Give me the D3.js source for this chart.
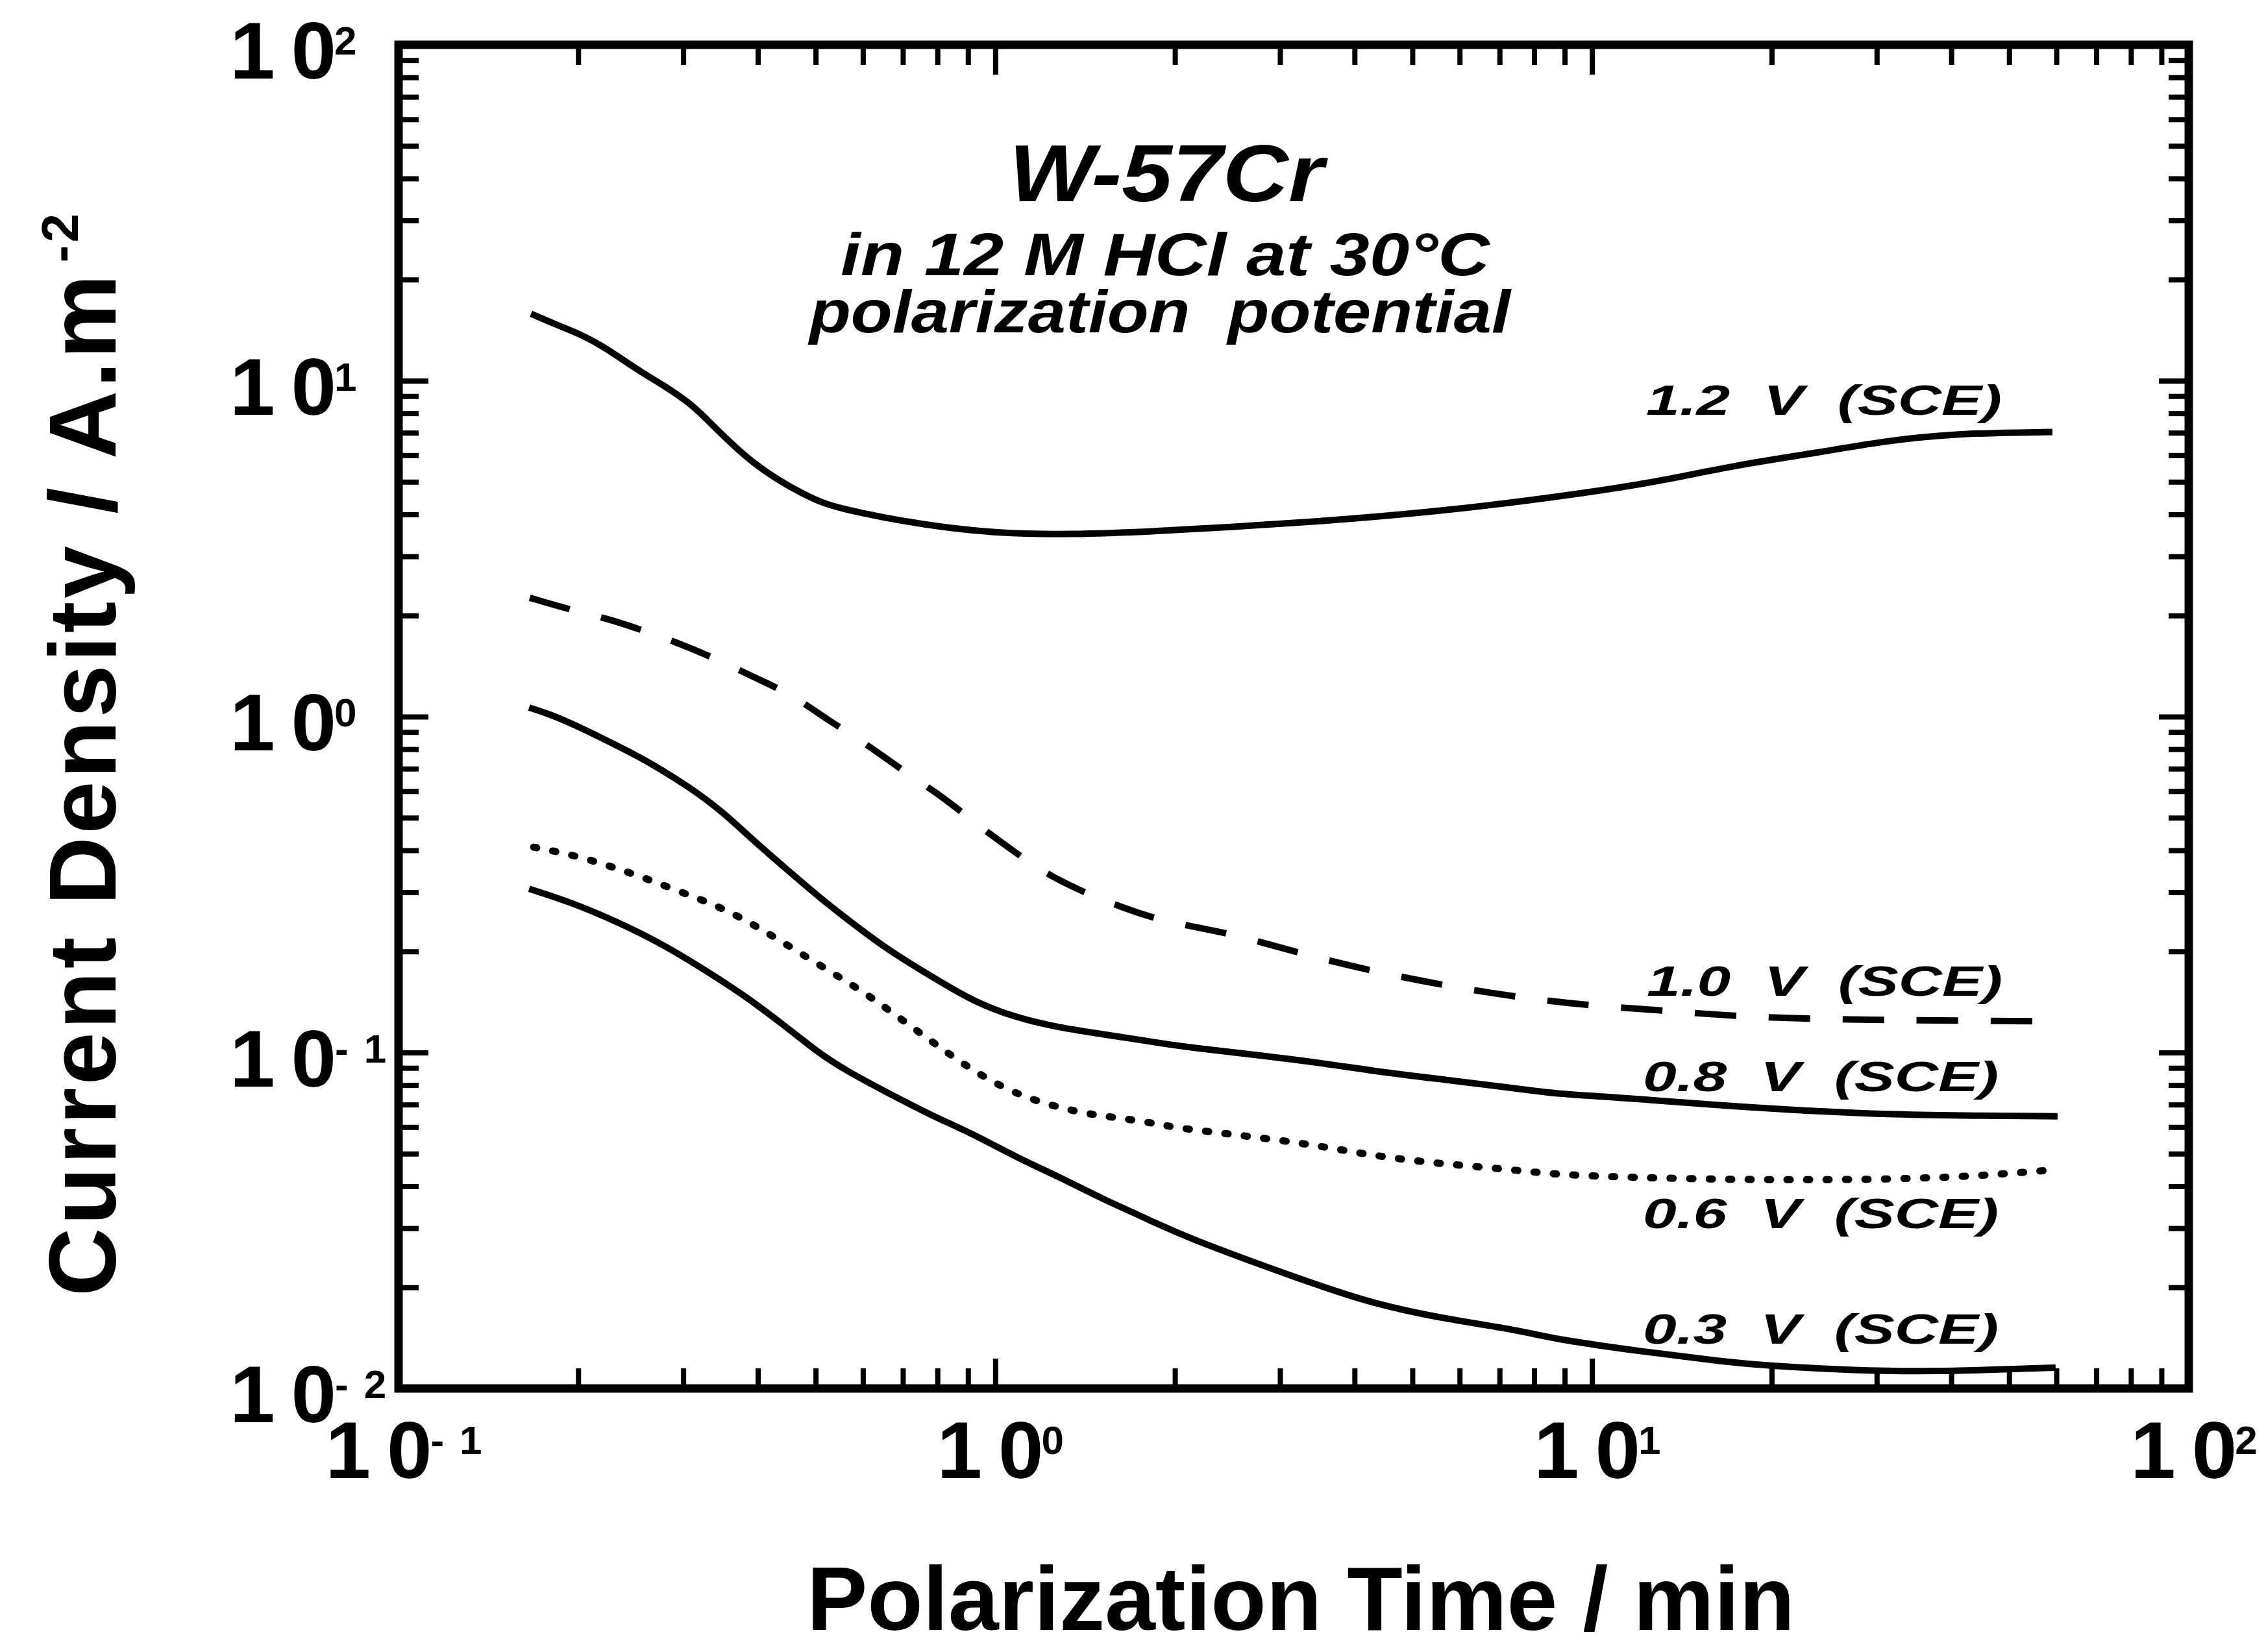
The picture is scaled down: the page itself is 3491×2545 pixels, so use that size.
<!DOCTYPE html>
<html><head><meta charset="utf-8">
<script src="https://cdn.jsdelivr.net/npm/d3@7"></script>
<style>
html,body{margin:0;padding:0;background:#fff;}
svg{display:block;}
text{font-family:"Liberation Sans", Arial, Helvetica, sans-serif;font-weight:bold;fill:#000;}
.it{font-style:italic;white-space:pre;}
</style></head><body>
<svg id="chart" width="3491" height="2545"></svg>
<script>
// ---- data (time in min, current density in A.m^-2) ----
const seriesLabels = ["1.2  V  (SCE)", "1.0  V  (SCE)", "0.8  V  (SCE)", "0.6  V  (SCE)", "0.3  V  (SCE)"];
const seriesStyles = ["solid", "dashed", "solid", "dotted", "solid"];

const time12 = [0.1667,0.1852,0.2012,0.2191,0.2379,0.2585,0.2814,0.3057,0.3214,0.3908,0.4885,0.5454,0.763,1.008,1.334,1.861,3.253,5.677,9.925,13.11,17.35,24.22,30.27,40.07,59.1];
const cd12   = [15.82,14.60,13.78,12.72,11.53,10.45,9.565,8.634,8.004,5.604,4.467,4.159,3.707,3.512,3.481,3.559,3.771,4.086,4.648,5.037,5.604,6.128,6.579,6.97,7.034];

const time10 = [0.1659,0.1948,0.2218,0.2585,0.2929,0.3465,0.3927,0.4564,0.5213,0.6059,0.6990,0.8182,0.9254,1.097,1.249,1.453,1.626,1.919,2.458,3.253,4.298,5.677,7.516,9.705,13.01,17.27,23.32,31.11,42.02,60.28];
const cd10   = [2.259,2.076,1.968,1.80,1.662,1.467,1.312,1.164,0.9824,0.8331,0.6913,0.5757,0.4818,0.3856,0.3313,0.2928,0.2713,0.2447,0.2279,0.1968,0.1745,0.1582,0.146,0.1384,0.1336,0.1283,0.126,0.1249,0.1244,0.1238];

const time08 = [0.1655,0.1793,0.2032,0.2303,0.2585,0.3081,0.3491,0.3957,0.4485,0.5084,0.5579,0.6597,0.7784,0.9206,1.089,1.285,1.519,1.797,2.053,3.253,4.298,5.677,7.516,8.778,11.17,15.66,21.91,32.79,43.74,60.28];
const cd08   = [1.064,1.018,0.923,0.8257,0.7454,0.6157,0.5216,0.4233,0.3495,0.2888,0.2536,0.2022,0.1692,0.1415,0.1266,0.1184,0.1133,0.1083,0.1040,0.0952,0.0880,0.0830,0.0781,0.0752,0.0735,0.0700,0.0673,0.0652,0.0649,0.0646];

const time06 = [0.1684,0.1963,0.2263,0.2598,0.2996,0.3482,0.4007,0.4599,0.5306,0.6119,0.7130,0.8185,0.9393,1.097,1.269,1.456,1.659,1.929,2.043,3.253,4.298,5.677,7.516,8.913,16.67,27.04,37.26,47.39,57.05];
const cd06   = [0.4088,0.3873,0.3590,0.3299,0.2989,0.2701,0.2361,0.2030,0.1737,0.1486,0.1217,0.1018,0.0859,0.0745,0.0688,0.0652,0.0635,0.0607,0.0594,0.0541,0.0492,0.0465,0.0447,0.0430,0.0418,0.0418,0.0423,0.0433,0.0445];

const time03 = [0.1655,0.1948,0.2303,0.2718,0.3214,0.3802,0.4485,0.5084,0.5579,0.6597,0.7784,0.9206,1.089,1.285,1.519,1.797,2.053,3.253,4.298,5.677,7.516,8.778,12.1,16.67,19.57,27.04,37.26,51.35,59.83];
const cd03   = [0.3072,0.2799,0.2469,0.2142,0.1792,0.1479,0.1184,0.0991,0.0891,0.0759,0.0652,0.0571,0.0486,0.0425,0.0365,0.0320,0.0285,0.0211,0.01785,0.0161,0.01493,0.01396,0.01289,0.0120,0.01169,0.01133,0.01122,0.01143,0.01153];

const seriesTimes = [time12, time10, time08, time06, time03];
const seriesValues = [cd12, cd10, cd08, cd06, cd03];

const xMajorTicks = [0.1, 1, 10, 100];
const xTickExps = [-1, 0, 1, 2];
const yMajorTicks = [0.01, 0.1, 1, 10, 100];
const yTickExps = [-2, -1, 0, 1, 2];

const titleLines = ["W-57Cr", "in 12 M HCl at 30°C", "polarization  potential"];
const xTitle = "Polarization Time / min";
const yTitleMain = "Current Density / A.m";
const yTitleSup = "-2";

// ---- layout ----
const L = 614, R = 3372, T = 69, B = 2139;
const svg = d3.select("#chart");
const x = d3.scaleLog().domain([0.1, 100]).range([L, R]);
const y = d3.scaleLog().domain([0.01, 100]).range([B, T]);

function minorTicks(lo, hi) {
  const out = [];
  for (let e = Math.round(Math.log10(lo)); e < Math.round(Math.log10(hi)); e++)
    for (let m = 2; m <= 9; m++) out.push(m * Math.pow(10, e));
  return out;
}
const xMinor = minorTicks(0.1, 100);
const yMinor = minorTicks(0.01, 100);

const MAJ = 46, MIN = 31, TW = 8;
function styleAxis(g) {
  g.select(".domain").remove();
  g.selectAll(".tick text").remove();
  g.selectAll(".tick line").attr("stroke", "#000").attr("stroke-width", TW);
}
// bottom / top
svg.append("g").attr("transform", `translate(0,${B})`).call(d3.axisBottom(x).tickValues(xMajorTicks).tickSizeInner(-MAJ).tickSizeOuter(0)).call(styleAxis);
svg.append("g").attr("transform", `translate(0,${B})`).call(d3.axisBottom(x).tickValues(xMinor).tickSizeInner(-MIN).tickSizeOuter(0)).call(styleAxis);
svg.append("g").attr("transform", `translate(0,${T})`).call(d3.axisTop(x).tickValues(xMajorTicks).tickSizeInner(-MAJ).tickSizeOuter(0)).call(styleAxis);
svg.append("g").attr("transform", `translate(0,${T})`).call(d3.axisTop(x).tickValues(xMinor).tickSizeInner(-MIN).tickSizeOuter(0)).call(styleAxis);
// left / right
svg.append("g").attr("transform", `translate(${L},0)`).call(d3.axisLeft(y).tickValues(yMajorTicks).tickSizeInner(-MAJ).tickSizeOuter(0)).call(styleAxis);
svg.append("g").attr("transform", `translate(${L},0)`).call(d3.axisLeft(y).tickValues(yMinor).tickSizeInner(-MIN).tickSizeOuter(0)).call(styleAxis);
svg.append("g").attr("transform", `translate(${R},0)`).call(d3.axisRight(y).tickValues(yMajorTicks).tickSizeInner(-MAJ).tickSizeOuter(0)).call(styleAxis);
svg.append("g").attr("transform", `translate(${R},0)`).call(d3.axisRight(y).tickValues(yMinor).tickSizeInner(-MIN).tickSizeOuter(0)).call(styleAxis);

// frame
svg.append("rect").attr("x", L).attr("y", T).attr("width", R - L).attr("height", B - T)
  .attr("fill", "none").attr("stroke", "#000").attr("stroke-width", 13);

// tick labels (10 with superscript exponent)
function powLabel(t, e) {
  t.append("tspan").text("1");
  t.append("tspan").attr("dx", 25).text("0");
  if (e < 0) {
    t.append("tspan").attr("dx", -2).attr("dy", -37).attr("font-size", 62).text("-");
    t.append("tspan").attr("dx", 24).attr("font-size", 62).text(String(-e));
  } else {
    t.append("tspan").attr("dx", -3).attr("dy", -37).attr("font-size", 62).text(String(e));
  }
}
xMajorTicks.forEach((v, i) => {
  const t = svg.append("text").attr("x", x(v) + 8).attr("y", 2277).attr("text-anchor", "middle").attr("font-size", 125);
  powLabel(t, xTickExps[i]);
});
yMajorTicks.forEach((v, i) => {
  const t = svg.append("text").attr("x", 354).attr("y", y(v) + 52).attr("text-anchor", "start").attr("font-size", 125);
  powLabel(t, yTickExps[i]);
});

// axis titles
svg.append("text").attr("x", 2004).attr("y", 2511).attr("text-anchor", "middle").attr("font-size", 140).text(xTitle);
const yt = svg.append("text").attr("transform", "translate(178,1163) rotate(-90)").attr("text-anchor", "middle")
  .attr("font-size", 146).attr("textLength", 1668);
yt.append("tspan").text(yTitleMain);
yt.append("tspan").attr("dx", 14).attr("dy", -58).attr("font-size", 80).text(yTitleSup);

// title block
const titleSizes = [124, 93, 93], titleY = [310, 424, 512], titleX = [1797, 1795, 1787], titleW = [485, 1000, 1080];
titleLines.forEach((s, i) => {
  svg.append("text").attr("class", "it").attr("x", titleX[i]).attr("y", titleY[i]).attr("text-anchor", "middle")
    .attr("font-size", titleSizes[i]).attr("textLength", titleW[i]).attr("lengthAdjust", "spacingAndGlyphs").text(s);
});

// curves
const line = d3.line().x(d => x(d[0])).y(d => y(d[1])).curve(d3.curveBasis);
seriesTimes.forEach((ts, i) => {
  const pts = ts.map((t, k) => [t, seriesValues[i][k]]);
  const p = svg.append("path").attr("d", line(pts)).attr("fill", "none").attr("stroke", "#000");
  if (seriesStyles[i] === "solid") p.attr("stroke-width", 10).attr("stroke-linejoin", "round");
  else if (seriesStyles[i] === "dashed") p.attr("stroke-width", 10).attr("stroke-dasharray", "64 50");
  else p.attr("stroke-width", 11).attr("stroke-linecap", "round").attr("stroke-dasharray", "5 25");
});

// curve labels
const labX = [2536, 2537, 2531, 2531, 2531], labY = [639, 1534, 1681, 1892, 2070];
seriesLabels.forEach((s, i) => {
  svg.append("text").attr("class", "it").attr("x", labX[i]).attr("y", labY[i]).attr("font-size", 65)
    .attr("textLength", 548).attr("lengthAdjust", "spacingAndGlyphs").text(s);
});
</script>
</body></html>
